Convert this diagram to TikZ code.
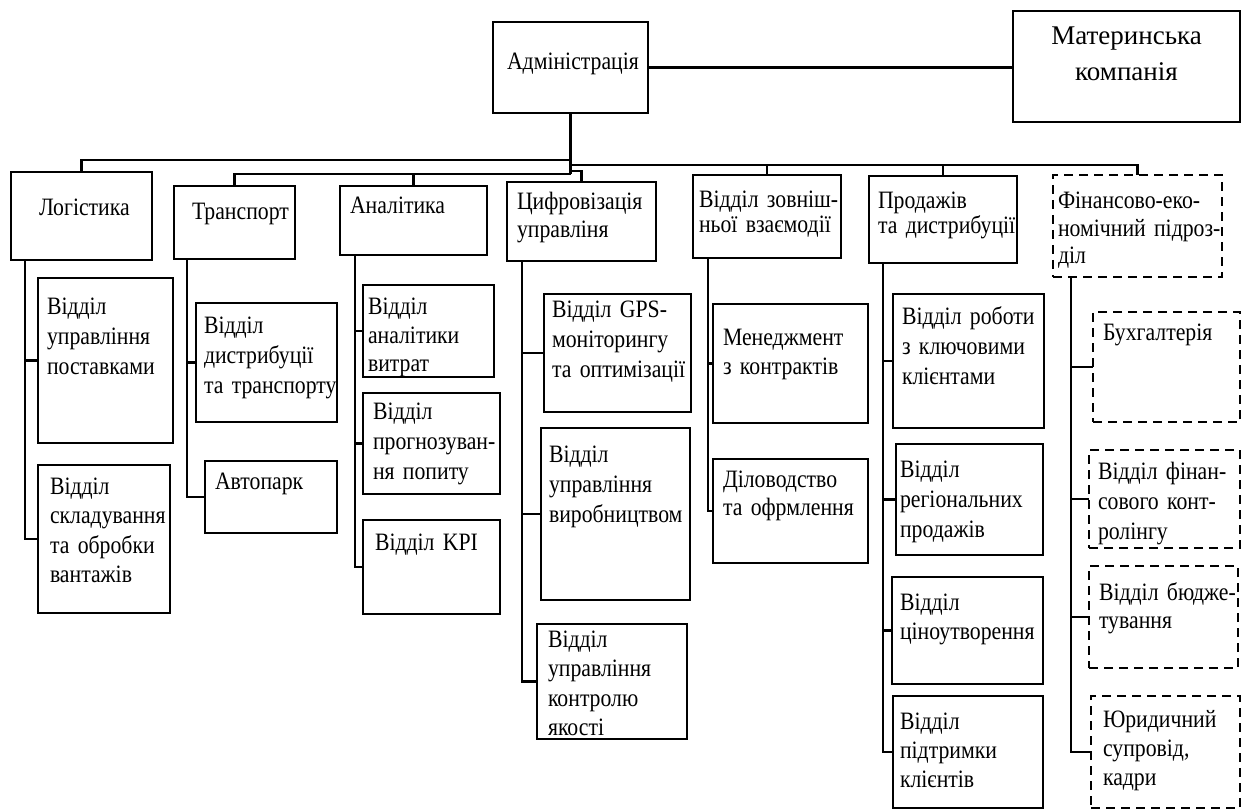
\documentclass[tikz,border=0pt]{standalone}
\usepackage{fontspec}
\setmainfont{Liberation Serif}[FakeStretch=0.87]
\newfontfamily\matfont{Liberation Serif}
\tikzset{
  bx/.style={draw=black, line width=2.6pt, anchor=north west, inner sep=0pt, outer sep=0pt},
  dbx/.style={bx, dash pattern=on 9pt off 6pt},
  txt/.style={anchor=base west, inner sep=0pt, outer sep=0pt, align=left, text=black},
  conn/.style={draw=black, line width=2.4pt}
}
\newcommand\obox[6]{%
  \pgfmathsetmacro\bw{#5-#3}\pgfmathsetmacro\bh{#6-#4}%
  \node[#1, minimum width=\bw pt, minimum height=\bh pt] (#2) at (#3,#4) {};}
\newcommand\otext[6]{%
  \pgfmathsetmacro\tw{#4-#2}%
  \node[txt, text width=\tw pt, font=\fontsize{25pt}{#5pt}\selectfont] (#1) at (#2,#3) {#6};}
\begin{document}
\lineskiplimit=-50pt
\begin{tikzpicture}[x=1pt,y=-1pt]
\useasboundingbox (0,0) rectangle (1250,810);
% top level
\obox{bx}{adm}{493}{22}{648}{113}
\otext{admt}{507}{70}{646}{29}{Адміністрація}
\obox{bx}{mat}{1013}{11}{1240}{122}
\pgfmathsetmacro\tw{225}
\node[txt, anchor=base, align=center, text width=\tw pt, font=\matfont\fontsize{27pt}{36pt}\selectfont] (matt) at (1126.5,45) {Материнська\\компанія};
% level 1
\obox{bx}{log}{11}{172}{152}{260}
\otext{logt}{39}{216}{150}{29}{Логістика}
\obox{bx}{tr}{174}{186}{295}{259}
\otext{trt}{192}{220}{294}{29}{Транспорт}
\obox{bx}{an}{340}{186}{487}{255}
\otext{ant}{350}{214}{485}{29}{Аналітика}
\obox{bx}{cyf}{507}{182}{656}{261}
\otext{cyft}{517}{210}{655}{28}{Цифровізація\\управліня}
\obox{bx}{zov}{693}{175}{841}{258}
\otext{zovt}{699}{208}{840}{25}{Відділ~зовніш-\\ньої~взаємодії}
\obox{bx}{prod}{869}{176}{1017}{263}
\otext{prodt}{878}{209}{1016}{25}{Продажів\\та~дистрибуції}
\obox{dbx}{fin}{1053}{175}{1222}{277}
\otext{fint}{1058}{209}{1221}{27.5}{Фінансово-еко-\\номічний~підроз-\\діл}
% logistics children
\obox{bx}{lc1}{38}{278}{173}{443}
\otext{lc1t}{47}{314}{172}{30}{Відділ\\управління\\поставками}
\obox{bx}{lc2}{38}{465}{170}{613}
\otext{lc2t}{50}{494}{169}{29.5}{Відділ\\складування\\та~обробки\\вантажів}
% transport children
\obox{bx}{tc1}{196}{303}{337}{422}
\otext{tc1t}{204}{334}{336}{30}{Відділ\\дистрибуції\\та~транспорту}
\obox{bx}{tc2}{205}{461}{337}{533}
\otext{tc2t}{215}{489}{336}{29}{Автопарк}
% analytics children
\obox{bx}{ac1}{363}{285}{494}{377}
\otext{ac1t}{368}{314}{493}{29}{Відділ\\аналітики\\витрат}
\obox{bx}{ac2}{363}{393}{500}{494}
\otext{ac2t}{373}{419}{499}{30}{Відділ\\прогнозуван-\\ня~попиту}
\obox{bx}{ac3}{363}{520}{500}{614}
\otext{ac3t}{375}{550}{499}{29}{Відділ~KPI}
% digitalisation children
\obox{bx}{cc1}{544}{294}{691}{412}
\otext{cc1t}{552}{317}{690}{30}{Відділ~GPS-\\моніторингу\\та~оптимізації}
\obox{bx}{cc2}{541}{428}{690}{600}
\otext{cc2t}{549}{462}{689}{30}{Відділ\\управління\\виробництвом}
\obox{bx}{cc3}{537}{624}{687}{739}
\otext{cc3t}{548}{647}{686}{29.5}{Відділ\\управління\\контролю\\якості}
% external relations children
\obox{bx}{zc1}{713}{304}{868}{423}
\otext{zc1t}{723}{345}{867}{29}{Менеджмент\\з~контрактів}
\obox{bx}{zc2}{713}{459}{868}{563}
\otext{zc2t}{723}{487}{867}{28}{Діловодство\\та~офрмлення}
% sales children
\obox{bx}{pc1}{893}{294}{1044}{428}
\otext{pc1t}{902}{324}{1043}{30}{Відділ~роботи\\з~ключовими\\клієнтами}
\obox{bx}{pc2}{896}{444}{1043}{555}
\otext{pc2t}{900}{477}{1042}{30}{Відділ\\регіональних\\продажів}
\obox{bx}{pc3}{892}{577}{1043}{684}
\otext{pc3t}{900}{610}{1042}{29}{Відділ\\ціноутворення}
\obox{bx}{pc4}{893}{696}{1043}{808}
\otext{pc4t}{900}{729}{1042}{29}{Відділ\\підтримки\\клієнтів}
% finance children
\obox{dbx}{fc1}{1093}{312}{1240}{422}
\otext{fc1t}{1103}{340}{1239}{29}{Бухгалтерія}
\obox{dbx}{fc2}{1089}{450}{1240}{548}
\otext{fc2t}{1098}{479}{1239}{30}{Відділ~фінан-\\сового~конт-\\ролінгу}
\obox{dbx}{fc3}{1089}{566}{1238}{668}
\otext{fc3t}{1099}{600}{1237}{28}{Відділ~бюдже-\\тування}
\obox{dbx}{fc4}{1091}{696}{1240}{808}
\otext{fc4t}{1103}{727}{1239}{29}{Юридичний\\супровід,\\кадри}
% top connectors
\coordinate (busA) at (adm.south |- 0,160);
\coordinate (busB) at (adm.south |- 0,174);
\coordinate (busC) at (adm.south |- 0,165);
\coordinate (busD) at (adm.south |- 0,171);
\draw[conn] (adm.east) -- (adm.east -| mat.west);
\draw[conn] (adm.south) -- (busB);
\draw[conn] (busA) -| (log.north);
\draw[conn] (busB) -| (tr.north);
\draw[conn] (an.north |- busB) -- (an.north);
\draw[conn] (busD) -| (cyf.north);
\draw[conn] (busC) -| (fin.north);
\draw[conn] (zov.north |- busC) -- (zov.north);
\draw[conn] (prod.north |- busC) -- (prod.north);
% spines
\draw[conn] (log.south -| 25,0) |- (lc2.west);
\draw[conn] (lc1.west -| 25,0) -- (lc1.west);
\draw[conn] (tr.south -| 187,0) |- (tc2.west);
\draw[conn] (tc1.west -| 187,0) -- (tc1.west);
\draw[conn] (an.south -| 355,0) |- (ac3.west);
\draw[conn] (ac1.west -| 355,0) -- (ac1.west);
\draw[conn] (ac2.west -| 355,0) -- (ac2.west);
\draw[conn] (cyf.south -| 522,0) |- (cc3.west);
\draw[conn] (cc1.west -| 522,0) -- (cc1.west);
\draw[conn] (cc2.west -| 522,0) -- (cc2.west);
\draw[conn] (zov.south -| 708,0) |- (zc2.west);
\draw[conn] (zc1.west -| 708,0) -- (zc1.west);
\draw[conn] (prod.south -| 883,0) |- (pc4.west);
\draw[conn] (pc1.west -| 883,0) -- (pc1.west);
\draw[conn] (pc2.west -| 883,0) -- (pc2.west);
\draw[conn] (pc3.west -| 883,0) -- (pc3.west);
\draw[conn] (fin.south -| 1071,0) |- (fc4.west);
\draw[conn] (fc1.west -| 1071,0) -- (fc1.west);
\draw[conn] (fc2.west -| 1071,0) -- (fc2.west);
\draw[conn] (fc3.west -| 1071,0) -- (fc3.west);
\end{tikzpicture}
\end{document}
